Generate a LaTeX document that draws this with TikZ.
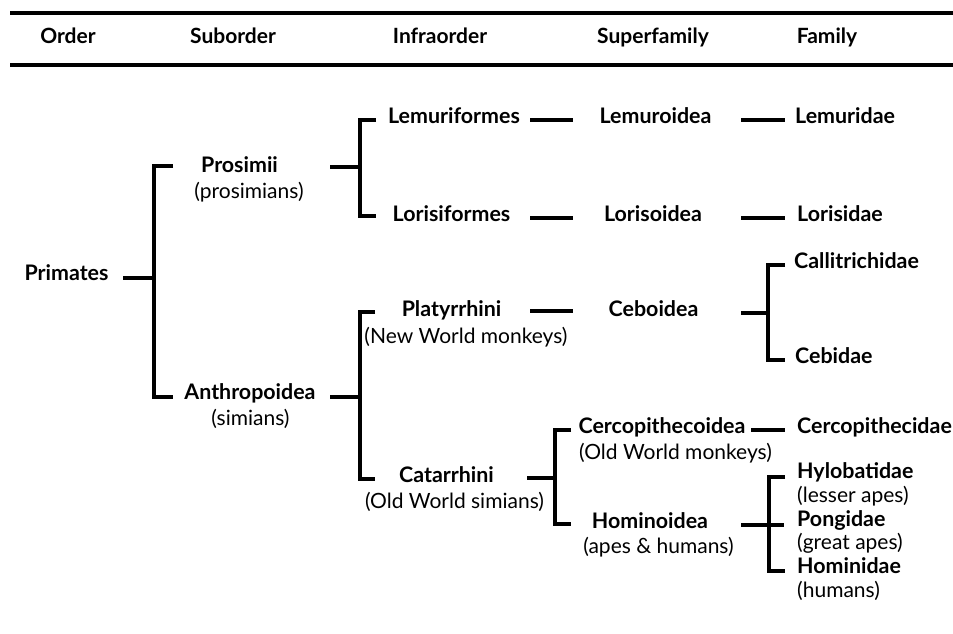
\documentclass[tikz,border=0pt]{standalone}
\usepackage{fontspec}
\setmainfont{Lato}
\begin{document}
\begin{tikzpicture}[x=1pt,y=-1pt,
  taxon/.style={font=\bfseries\fontsize{21.4}{24}\selectfont, inner sep=0pt, text height=0.72em, text depth=0pt},
  common/.style={font=\fontsize{21}{24}\selectfont, inner sep=0pt, text height=0.72em, text depth=0pt},
  hdr/.style={font=\bfseries\fontsize{21}{24}\selectfont, inner sep=0pt, text height=0.72em, text depth=0pt},
  treeline/.style={line width=3.2pt, line cap=butt},
  rule/.style={line width=3.4pt}]
\useasboundingbox (0,0) rectangle (953,633);

% header
\coordinate (r1a) at (10,13); \coordinate (r1b) at (953,13);
\coordinate (r2a) at (10,65); \coordinate (r2b) at (953,65);
\draw[rule] (r1a) -- (r1b);
\draw[rule] (r2a) -- (r2b);
\node[hdr] (hOrder) at (68,40) {Order};
\node[hdr] (hSub) at (233,40) {Suborder};
\node[hdr] (hInfra) at (440,40) {Infraorder};
\node[hdr] (hSuper) at (653,40) {Superfamily};
\node[hdr] (hFam) at (827,40) {Family};

% text nodes
\node[taxon] (primates) at (66.5,277) {Primates};
\node[taxon] (prosimii) at (239.5,169) {Prosimii};
\node[common] (prosimiiC) at (249,195) {(prosimians)};
\node[taxon] (anthro) at (250,396) {Anthropoidea};
\node[common] (anthroC) at (250.5,422) {(simians)};
\node[taxon] (lemurif) at (454,120) {Lemuriformes};
\node[taxon] (lorisif) at (451.5,218) {Lorisiformes};
\node[taxon] (platy) at (451.5,313) {Platyrrhini};
\node[common] (platyC) at (466,340) {(New World monkeys)};
\node[taxon] (catar) at (446.5,479) {Catarrhini};
\node[common] (catarC) at (454.5,505) {(Old World simians)};
\node[taxon] (lemuro) at (655.5,120) {Lemuroidea};
\node[taxon] (loriso) at (653,218) {Lorisoidea};
\node[taxon] (cebo) at (653.5,313) {Ceboidea};
\node[taxon] (cerco) at (662,430) {Cercopithecoidea};
\node[common] (cercoC) at (675.5,456) {(Old World monkeys)};
\node[taxon] (homino) at (650,525) {Hominoidea};
\node[common] (hominoC) at (658.5,550) {(apes \& humans)};
\node[taxon,anchor=west] (lemurid) at (795,120) {Lemuridae};
\node[taxon,anchor=west] (lorisid) at (797,218) {Lorisidae};
\node[taxon,anchor=west] (callit) at (794,265) {Callitrichidae};
\node[taxon,anchor=west] (cebid) at (795,360) {Cebidae};
\node[taxon,anchor=west] (cercid) at (797,430) {Cercopithecidae};
\node[taxon,anchor=west] (hylo) at (797,475) {Hylobatidae};
\node[common,anchor=west] (hyloC) at (797,499) {(lesser apes)};
\node[taxon,anchor=west] (pong) at (797,523) {Pongidae};
\node[common,anchor=west] (pongC) at (797,546) {(great apes)};
\node[taxon,anchor=west] (homid) at (797,570) {Hominidae};
\node[common,anchor=west] (homidC) at (797,594) {(humans)};

% connector coordinates
% Primates bracket
\coordinate (p0) at (123,278); \coordinate (p1) at (154,278);
\coordinate (p1t) at (154,166); \coordinate (p1b) at (154,397);
\coordinate (p1tt) at (173,166); \coordinate (p1bb) at (173,397);
\draw[treeline] (p0) -- (p1);
\draw[treeline] (p1tt) -- (p1t) -- (p1b) -- (p1bb);
% Prosimii bracket
\coordinate (s0) at (330,167); \coordinate (s1) at (360,167);
\coordinate (s1t) at (360,120); \coordinate (s1b) at (360,216);
\coordinate (s1tt) at (376,120); \coordinate (s1bb) at (376,216);
\draw[treeline] (s0) -- (s1);
\draw[treeline] (s1tt) -- (s1t) -- (s1b) -- (s1bb);
% lemur row
\coordinate (l1a) at (530,120); \coordinate (l1b) at (573,120);
\coordinate (l2a) at (741,120); \coordinate (l2b) at (785,120);
\draw[treeline] (l1a) -- (l1b);
\draw[treeline] (l2a) -- (l2b);
% loris row
\coordinate (o1a) at (530,218); \coordinate (o1b) at (573,218);
\coordinate (o2a) at (741,218); \coordinate (o2b) at (785,218);
\draw[treeline] (o1a) -- (o1b);
\draw[treeline] (o2a) -- (o2b);
% Anthropoidea bracket
\coordinate (a0) at (330,397); \coordinate (a1) at (360,397);
\coordinate (a1t) at (360,312); \coordinate (a1b) at (360,479);
\coordinate (a1tt) at (375,312); \coordinate (a1bb) at (375,479);
\draw[treeline] (a0) -- (a1);
\draw[treeline] (a1tt) -- (a1t) -- (a1b) -- (a1bb);
% Platyrrhini row
\coordinate (c1a) at (530,311); \coordinate (c1b) at (573,311);
\draw[treeline] (c1a) -- (c1b);
% Ceboidea bracket
\coordinate (e0) at (741,313); \coordinate (e1) at (768,313);
\coordinate (e1t) at (768,265); \coordinate (e1b) at (768,360);
\coordinate (e1tt) at (785,265); \coordinate (e1bb) at (785,360);
\draw[treeline] (e0) -- (e1);
\draw[treeline] (e1tt) -- (e1t) -- (e1b) -- (e1bb);
% Catarrhini bracket
\coordinate (k0) at (527,478); \coordinate (k1) at (555,478);
\coordinate (k1t) at (555,430); \coordinate (k1b) at (555,524);
\coordinate (k1tt) at (571,430); \coordinate (k1bb) at (571,524);
\draw[treeline] (k0) -- (k1);
\draw[treeline] (k1tt) -- (k1t) -- (k1b) -- (k1bb);
% Cercopithecoidea row
\coordinate (q1a) at (751,430); \coordinate (q1b) at (785,430);
\draw[treeline] (q1a) -- (q1b);
% Hominoidea bracket
\coordinate (h0) at (741,525); \coordinate (h1) at (784,525);
\coordinate (h1t) at (769,477); \coordinate (h1b) at (769,571);
\coordinate (h1tt) at (785,477); \coordinate (h1bb) at (785,571);
\draw[treeline] (h0) -- (h1);
\draw[treeline] (h1tt) -- (h1t) -- (h1b) -- (h1bb);
\end{tikzpicture}
\end{document}
